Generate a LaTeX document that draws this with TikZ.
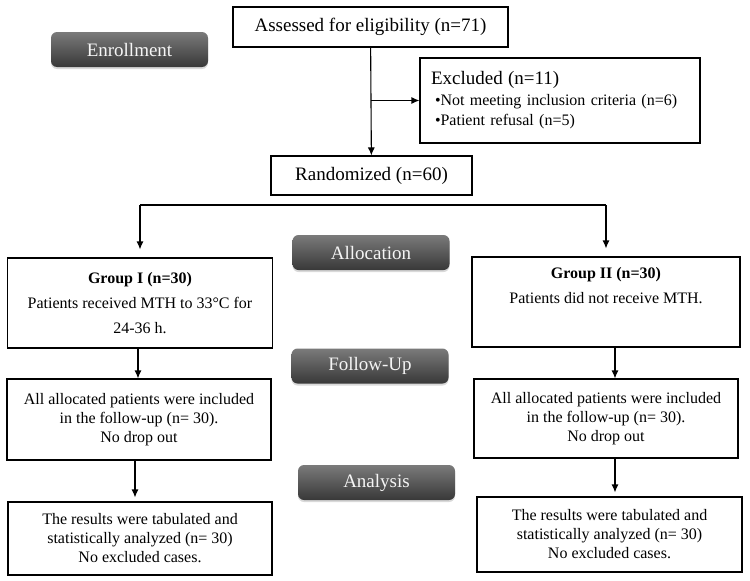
\documentclass[tikz,border=0pt]{standalone}
\usepackage{fontspec}
\setmainfont{Liberation Serif}
\usetikzlibrary{arrows.meta,shadows}

\begin{document}
\begin{tikzpicture}[x=1pt,y=-1pt,
    box/.style={draw, line width=1.1pt, align=center, inner sep=2pt,
      font=\fontsize{16}{19}\selectfont},
    badge/.style={rounded corners=6pt, top color=black!52, bottom color=black!78,
      text=black!4, minimum width=157pt, minimum height=35pt,
      font=\fontsize{19}{22}\selectfont,
      drop shadow={opacity=0.3, shadow xshift=0pt, shadow yshift=-2pt}},
    arr/.style={-{Latex[length=8pt,width=7pt]}, line width=1.1pt}]
  \useasboundingbox (0,0) rectangle (750,581);

  % stage labels
  \foreach \nm/\cx/\cy/\txt in {enroll/129.5/49.5/Enrollment, alloc/371/252.5/Allocation,
      follow/370/366/Follow-Up, analysis/376.5/482.5/Analysis} {
    \node[badge] (\nm) at (\cx,\cy) {\txt};
  }

  % enrollment
  \node[box, minimum width=275pt, minimum height=40pt, font=\fontsize{19}{22}\selectfont]
    (assess) at (370.5,27) {Assessed for eligibility (n=71)};
  \node[box, minimum width=280pt, minimum height=85pt, align=left, text width=258pt,
      font=\fontsize{16}{20}\selectfont]
    (excl) at (560,100.5) {{\fontsize{19}{22}\selectfont Excluded (n=11)}\\[1pt]
      \hspace*{4pt}\textbullet Not meeting inclusion criteria (n=6)\\
      \hspace*{4pt}\textbullet Patient refusal (n=5)};
  \node[box, minimum width=201pt, minimum height=39pt, font=\fontsize{19}{22}\selectfont]
    (rand) at (371.5,175.5) {Randomized (n=60)};

  % groups
  \node[box, minimum width=265pt, minimum height=90pt, font=\fontsize{16}{25}\selectfont]
    (grp1) at (140,303) {{\bfseries Group I (n=30)}\\ Patients received MTH to 33°C for\\ 24-36 h.};
  \node[box, minimum width=268pt, minimum height=90pt, font=\fontsize{16}{25}\selectfont]
    (grp2) at (606,302) {{\bfseries Group II (n=30)}\\ Patients did not receive MTH.\\ \strut};

  % follow-up
  \node[box, minimum width=264pt, minimum height=81pt]
    (fol1) at (139,419.5) {All allocated patients were included\\ in the follow-up (n= 30).\\ No drop out};
  \node[box, minimum width=264pt, minimum height=79pt]
    (fol2) at (606,418.5) {All allocated patients were included\\ in the follow-up (n= 30).\\ No drop out};

  % analysis
  \node[box, minimum width=264pt, minimum height=73pt]
    (ana1) at (140,538.5) {The results were tabulated and\\ statistically analyzed (n= 30)\\ No excluded cases.};
  \node[box, minimum width=265pt, minimum height=75pt]
    (ana2) at (609.5,534.5) {The results were tabulated and\\ statistically analyzed (n= 30)\\ No excluded cases.};

  % connectors
  \draw[arr] (assess) -- (rand);
  \coordinate (brk) at (assess.south |- excl.west);
  \draw[arr] (brk) -- (excl);
  \coordinate (splitL) at (140,205);
  \coordinate (splitR) at (606,205);
  \draw[line width=1.1pt] (splitL) -- (splitR);
  \draw[arr] (splitL) -- ([yshift=8pt]grp1.north);
  \draw[arr] (splitR) -- ([yshift=8pt]grp2.north);
  \draw[arr] ([xshift=-2pt]grp1.south) -- ([xshift=-2pt]grp1.south |- fol1.north);
  \draw[arr] ([xshift=9pt]grp2.south) -- ([xshift=9pt]grp2.south |- fol2.north);
  \draw[arr, shorten >=4pt] ([xshift=-4pt]fol1.south) -- ([xshift=-4pt]fol1.south |- ana1.north);
  \draw[arr, shorten >=4pt] ([xshift=9pt]fol2.south) -- ([xshift=9pt]fol2.south |- ana2.north);
\end{tikzpicture}
\end{document}
